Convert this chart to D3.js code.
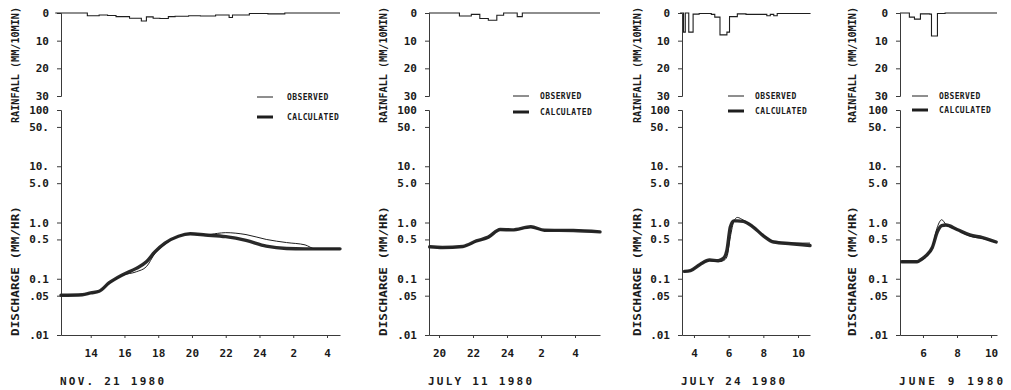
<!DOCTYPE html>
<html>
<head>
<meta charset="utf-8">
<script src="https://cdn.jsdelivr.net/npm/d3@7/dist/d3.min.js"></script>
<style>
  body { margin: 0; background: #fff; }
  svg text { font-family: "DejaVu Sans Mono", monospace; fill: #1a1a1a; }
</style>
</head>
<body>
<div id="chart"></div>
<script>
// tick values / labels
const rainTicks = [0, 10, 20, 30];
const qTicks = [100, 50, 10, 5, 1, 0.5, 0.1, 0.05, 0.01];
const qTickLabels = ["100", "50.", "10.", "5.0", "1.0", "0.5", "0.1", ".05", ".01"];
const hourTicks1 = [14, 16, 18, 20, 22, 24, 26, 28];
const hourTicks2 = [20, 22, 24, 26, 28];
const hourTicks3 = [4, 6, 8, 10];
const hourTicks4 = [6, 8, 10];
const dateLabels = ["NOV. 21 1980", "JULY 11 1980", "JULY 24 1980", "JUNE 9  1980"];
const legendLabels = ["OBSERVED", "CALCULATED"];

// rainfall steps [hour, mm/10min]
const rain1 = [[11.9,0],[13.8,1.0],[14.5,0.7],[15.0,0.9],[15.5,1.3],[16.3,1.9],[17.0,2.9],[17.3,1.4],[17.7,1.9],[18.1,2.0],[18.6,1.3],[19.0,1.2],[19.8,1.0],[20.5,1.1],[21.4,0.7],[22.2,1.6],[22.4,0.7],[23.4,0.2],[24.5,0.3],[25.5,0],[28.77,0]];
const rain2 = [[19.41,0],[21.2,1.1],[21.9,0.5],[22.4,2.0],[22.9,2.6],[23.4,0.8],[23.8,0],[24.6,1.3],[24.9,0],[29.47,0]];
const rain3 = [[3.2,0],[3.4,6.9],[3.5,0],[3.7,6.9],[3.95,0.4],[4.3,0.2],[5.0,0.5],[5.2,1.5],[5.5,7.9],[5.9,6.9],[6.05,1.3],[6.5,0.3],[7.0,0.5],[8.2,1.0],[8.4,0.5],[8.6,1.0],[8.8,0.2],[10.69,0]];
const rain4 = [[4.65,0],[5.2,1.5],[5.5,2.2],[5.85,0.3],[6.4,0.4],[6.5,8.3],[6.85,0.2],[7.3,0],[10.35,0]];

// discharge [hour, mm/hr]
const obs1 = [[12.24,0.051],[13.0,0.051],[14.0,0.055],[14.5,0.06],[15.1,0.083],[15.9,0.115],[16.7,0.133],[17.3,0.164],[17.8,0.28],[18.4,0.41],[19.2,0.57],[19.9,0.63],[20.8,0.60],[21.5,0.64],[22.0,0.66],[23.2,0.61],[24.4,0.50],[25.6,0.44],[26.7,0.40],[27.3,0.34],[28.77,0.34]];
const calc1 = [[12.24,0.051],[13.5,0.052],[14.0,0.056],[14.5,0.06],[15.1,0.085],[15.9,0.118],[16.7,0.153],[17.3,0.20],[17.8,0.30],[18.4,0.43],[19.2,0.57],[19.9,0.63],[20.8,0.60],[22.0,0.56],[23.2,0.48],[24.4,0.38],[25.6,0.345],[26.7,0.34],[28.77,0.34]];
const obs2 = [[19.45,0.37],[20.2,0.355],[21.4,0.37],[22.2,0.46],[22.9,0.54],[23.6,0.74],[24.3,0.73],[25.4,0.82],[26.2,0.72],[27.9,0.73],[29.47,0.68]];
const calc2 = [[19.45,0.37],[20.2,0.36],[21.4,0.375],[22.2,0.47],[22.9,0.55],[23.6,0.75],[24.3,0.74],[25.4,0.84],[26.2,0.73],[27.9,0.72],[29.47,0.68]];
const obs3 = [[3.45,0.135],[3.8,0.14],[4.35,0.18],[4.9,0.21],[5.4,0.20],[5.7,0.21],[5.9,0.245],[6.1,0.56],[6.3,1.05],[6.5,1.23],[6.85,1.1],[7.4,0.86],[8.0,0.60],[8.6,0.46],[9.6,0.43],[10.69,0.43]];
const calc3 = [[3.45,0.135],[3.8,0.14],[4.35,0.18],[4.9,0.215],[5.4,0.21],[5.7,0.23],[5.9,0.32],[6.1,0.84],[6.3,1.07],[6.5,1.07],[6.85,1.05],[7.4,0.84],[8.0,0.58],[8.6,0.45],[9.6,0.42],[10.69,0.39]];
const obs4 = [[4.75,0.20],[5.65,0.20],[5.9,0.215],[6.2,0.245],[6.55,0.37],[6.85,0.84],[7.1,1.12],[7.35,0.92],[8.0,0.75],[8.75,0.57],[9.5,0.52],[10.3,0.44]];
const calc4 = [[4.75,0.20],[5.65,0.20],[5.9,0.22],[6.2,0.26],[6.55,0.36],[6.85,0.69],[7.1,0.88],[7.35,0.9],[8.0,0.75],[8.75,0.60],[9.5,0.54],[10.3,0.45]];

// panel layout
const panels = [
  { x0: 61, x1: 340, dom: [12.24, 28.77], ticks: hourTicks1, labX: 15, legX: 257, legY: [97, 117], rain: rain1, obs: obs1, calc: calc1 },
  { x0: 429, x1: 600, dom: [19.41, 29.47], ticks: hourTicks2, labX: 383, legX: 513, legY: [96, 112], rain: rain2, obs: obs2, calc: calc2 },
  { x0: 682, x1: 810, dom: [3.31, 10.69], ticks: hourTicks3, labX: 637, legX: 728, legY: [96, 111], rain: rain3, obs: obs3, calc: calc3 },
  { x0: 900, x1: 997, dom: [4.65, 10.35], ticks: hourTicks4, labX: 852, legX: 912, legY: [96, 110], rain: rain4, obs: obs4, calc: calc4 }
];

const W = 1011, H = 390;
const ink = "#1e1e1e";

const svg = d3.select("#chart").append("svg")
  .attr("width", W)
  .attr("height", H);

const rainY = d3.scaleLinear().domain([0, 30]).range([13, 96]);
const qY = d3.scaleLog().domain([0.01, 100]).range([335, 110]);

panels.forEach((p, i) => {
  const x = d3.scaleLinear().domain(p.dom).range([p.x0, p.x1]);
  const g = svg.append("g").attr("class", "panel");

  // axes
  const rainAxis = d3.axisLeft(rainY)
    .tickValues(rainTicks)
    .tickSize(4)
    .tickPadding(8)
    .tickFormat(d3.format("d"));
  g.append("g")
    .attr("transform", `translate(${p.x0},0)`)
    .call(rainAxis);

  const qAxis = d3.axisLeft(qY)
    .tickValues(qTicks)
    .tickSize(4)
    .tickPadding(8)
    .tickFormat((d, j) => qTickLabels[j]);
  g.append("g")
    .attr("transform", `translate(${p.x0},0)`)
    .call(qAxis);

  const xAxis = d3.axisBottom(x)
    .tickValues(p.ticks)
    .tickSize(3)
    .tickSizeOuter(0)
    .tickPadding(11)
    .tickFormat(h => (h > 24 ? h - 24 : h));
  g.append("g")
    .attr("transform", `translate(0,${qY(0.01)})`)
    .call(xAxis);

  g.selectAll(".domain, .tick line").attr("stroke", "#3a3a3a").attr("stroke-width", 1);
  g.selectAll(".tick text")
    .attr("font-size", 11)
    .attr("font-weight", "bold")
    .attr("font-family", "DejaVu Sans Mono, monospace")
    .attr("fill", ink);

  // axis titles
  g.append("text")
    .attr("transform", `translate(${p.labX},65) rotate(-90)`)
    .attr("text-anchor", "middle")
    .attr("dominant-baseline", "central")
    .attr("font-size", 10)
    .attr("font-weight", "bold")
    .attr("textLength", 116)
    .attr("lengthAdjust", "spacingAndGlyphs")
    .text("RAINFALL (MM/10MIN)");
  g.append("text")
    .attr("transform", `translate(${p.labX},271) rotate(-90)`)
    .attr("text-anchor", "middle")
    .attr("dominant-baseline", "central")
    .attr("font-size", 10)
    .attr("font-weight", "bold")
    .attr("textLength", 130)
    .attr("lengthAdjust", "spacingAndGlyphs")
    .text("DISCHARGE (MM/HR)");

  // date
  g.append("text")
    .attr("x", p.x0 - 1)
    .attr("y", 385)
    .attr("font-size", 11)
    .attr("font-weight", "bold")
    .attr("textLength", 104)
    .attr("lengthAdjust", "spacing")
    .text(dateLabels[i]);

  // rainfall hyetograph
  const rainLine = d3.line()
    .curve(d3.curveStepAfter)
    .x(d => x(d[0]))
    .y(d => rainY(d[1]));
  g.append("path")
    .datum(p.rain)
    .attr("fill", "none")
    .attr("stroke", ink)
    .attr("stroke-width", 1.1)
    .attr("d", rainLine);

  // discharge
  const qLine = d3.line()
    .curve(d3.curveMonotoneX)
    .x(d => x(d[0]))
    .y(d => qY(d[1]));
  g.append("path")
    .datum(p.calc)
    .attr("fill", "none")
    .attr("stroke", "#2a2a2a")
    .attr("stroke-width", 3.4)
    .attr("stroke-linecap", "round")
    .attr("d", qLine);
  g.append("path")
    .datum(p.obs)
    .attr("fill", "none")
    .attr("stroke", ink)
    .attr("stroke-width", 1)
    .attr("d", qLine);

  // legend
  legendLabels.forEach((lab, k) => {
    const ly = p.legY[k];
    g.append("line")
      .attr("x1", p.legX).attr("x2", p.legX + 16)
      .attr("y1", ly).attr("y2", ly)
      .attr("stroke", ink)
      .attr("stroke-width", k === 0 ? 1 : 3);
    g.append("text")
      .attr("x", p.legX + (i === 0 ? 30 : 27))
      .attr("y", ly)
      .attr("dominant-baseline", "central")
      .attr("font-size", 8)
      .attr("font-weight", "bold")
      .attr("letter-spacing", 0.4)
      .text(lab);
  });
});
</script>
</body>
</html>
